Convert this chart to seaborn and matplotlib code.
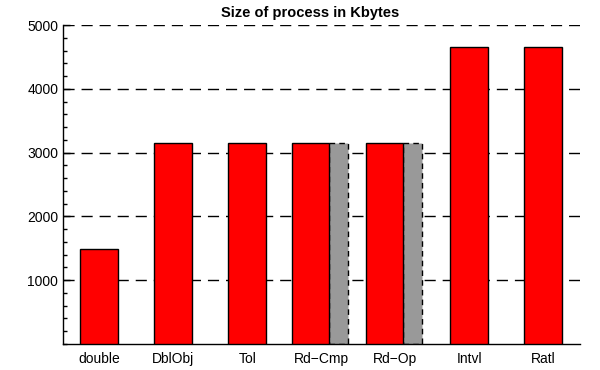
import seaborn as sns
import matplotlib.pyplot as plt
from matplotlib.ticker import MultipleLocator

# data
categories = ["double", "DblObj", "Tol", "Rd\u2212Cmp", "Rd\u2212Op", "Intvl", "Ratl"]
sizes = [1490, 3150, 3150, 3150, 3150, 4660, 4660]
gray_categories = ["Rd\u2212Cmp", "Rd\u2212Op"]
gray_sizes = [3150, 3150]

sns.set_style("white")
plt.rcParams["font.family"] = ["Liberation Sans", "DejaVu Sans"]
plt.rcParams["text.color"] = "black"
plt.rcParams["axes.labelcolor"] = "black"
plt.rcParams["xtick.color"] = "black"
plt.rcParams["ytick.color"] = "black"

fig = plt.figure(figsize=(6, 3.7), dpi=100)
ax = fig.add_axes([0.105, 0.071, 0.862, 0.861])

# gray bars behind the shifted red ones
for cat, val in zip(gray_categories, gray_sizes):
    i = categories.index(cat)
    ax.bar(i + 0.108, val, width=0.257, align="edge", color="#999999",
           edgecolor="black", linewidth=1, linestyle=(0, (4, 3)), zorder=2)

sns.barplot(x=categories, y=sizes, color="#ff0000", saturation=1,
            width=0.51, edgecolor="black", linewidth=1, ax=ax, zorder=3)

# shift red bars that share a slot with a gray bar
for cat in gray_categories:
    i = categories.index(cat)
    p = ax.patches[len(gray_categories) + i]
    p.set_x(i - 0.39)
    p.set_width(0.498)

ax.set_xlim(-0.49, 6.5)
ax.set_ylim(0, 5000)
ax.set_yticks([1000, 2000, 3000, 4000, 5000])
ax.yaxis.set_minor_locator(MultipleLocator(200))
ax.tick_params(axis="y", which="major", direction="in", length=5, width=1,
               labelsize=10, colors="black", left=True)
ax.tick_params(axis="y", which="minor", direction="in", length=3, width=1,
               colors="black", left=True)
ax.tick_params(axis="x", length=0, labelsize=10, pad=6, colors="black")

for y in [1000, 2000, 3000, 4000, 5000]:
    ax.axhline(y, color="black", linewidth=1, linestyle=(0, (8, 5)), zorder=1)

for s in ["top", "right"]:
    ax.spines[s].set_visible(False)
for s in ["left", "bottom"]:
    ax.spines[s].set_color("black")
    ax.spines[s].set_linewidth(1)

ax.set_xlabel("")
ax.set_ylabel("")
ax.set_title("Size of process in Kbytes", fontsize=10.5, fontweight="bold",
             pad=6, color="black", x=0.478)

plt.savefig("out.png", dpi=100)
